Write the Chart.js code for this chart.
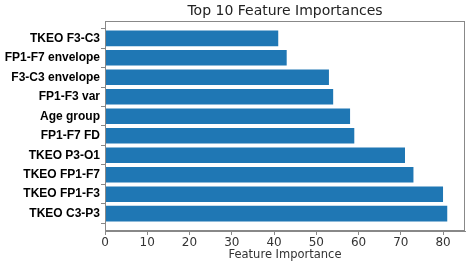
<!DOCTYPE html>
<html lang="en">
<head>
  <meta charset="UTF-8">
  <title>Top 10 Feature Importances</title>
  <script src="https://cdn.jsdelivr.net/npm/chart.js"></script>
  <style>
    body { margin: 0; background: #fff; }
    #wrap { width: 474px; height: 266px; }
  </style>
</head>
<body>
  <div id="wrap"><canvas id="featChart" width="474" height="266"></canvas></div>
  <script>
// features, top to bottom as shown
const features = ['TKEO F3-C3', 'FP1-F7 envelope', 'F3-C3 envelope', 'FP1-F3 var', 'Age group',
  'FP1-F7 FD', 'TKEO P3-O1', 'TKEO FP1-F7', 'TKEO FP1-F3', 'TKEO C3-P3'];
const importances = [41, 43, 53, 54, 58, 59, 71, 73, 80, 81];
const xTicks = [0, 10, 20, 30, 40, 50, 60, 70, 80];

const frameColor = '#888';

// matplotlib style box round the axes
const frame = {
  id: 'frame',
  afterDraw(chart) {
    const a = chart.chartArea;
    const c = chart.ctx;
    c.save();
    c.strokeStyle = frameColor;
    c.lineWidth = 1;
    c.strokeRect(a.left + 0.5, a.top + 0.5, a.right - a.left - 1, a.bottom - a.top - 1);
    c.restore();
  }
};

new Chart(document.getElementById('featChart'), {
  type: 'bar',
  data: {
    datasets: [{
      data: importances.map((v, i) => ({ x: v, y: i })),
      backgroundColor: '#1f77b4',
      borderWidth: 0,
      barPercentage: 0.8,
      categoryPercentage: 1.0
    }]
  },
  options: {
    indexAxis: 'y',
    responsive: false,
    animation: false,
    layout: { padding: { left: 0, right: 9, top: 0, bottom: 0 } },
    plugins: {
      legend: { display: false },
      tooltip: { enabled: false },
      title: {
        display: true,
        text: 'Top 10 Feature Importances',
        fullSize: false,
        color: '#222',
        font: { family: 'DejaVu Sans', size: 14, weight: 'normal' },
        padding: { top: 3, bottom: 1.2 }
      }
    },
    scales: {
      x: {
        type: 'linear',
        min: 0,
        max: 85.2,
        afterBuildTicks: s => { s.ticks = xTicks.map(v => ({ value: v })); },
        afterFit: s => { s.height = 35; },
        ticks: {
          color: '#333',
          font: { family: 'DejaVu Sans', size: 12 },
          padding: 1,
          maxRotation: 0
        },
        grid: { drawOnChartArea: false, tickLength: 4, color: frameColor },
        border: { color: frameColor },
        title: {
          display: true,
          text: 'Feature Importance',
          color: '#333',
          font: { family: 'DejaVu Sans', size: 11.5 },
          padding: { top: 0, bottom: 4 }
        }
      },
      y: {
        type: 'linear',
        reverse: true,
        offset: false,
        min: -0.89,
        max: 9.89,
        afterBuildTicks: s => { s.ticks = features.map((f, i) => ({ value: i })); },
        afterFit: s => { s.width = 105; },
        ticks: {
          color: '#000',
          font: { family: 'Liberation Sans', size: 12, weight: 'bold' },
          padding: 1,
          callback: v => features[v]
        },
        grid: { drawOnChartArea: false, tickLength: 4, color: frameColor },
        border: { color: frameColor }
      }
    }
  },
  plugins: [frame]
});
  </script>
</body>
</html>
